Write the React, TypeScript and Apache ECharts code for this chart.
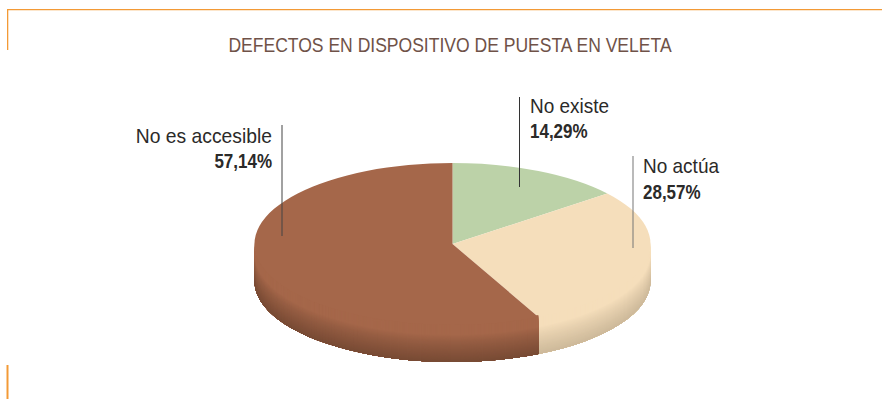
import React, { useEffect, useRef } from "react";
import * as echarts from "echarts";

const titleText = "DEFECTOS EN DISPOSITIVO DE PUESTA EN VELETA";
const categories = ["No existe", "No actúa", "No es accesible"];
const values = [14.29, 28.57, 57.14];
const valueLabels = ["14,29%", "28,57%", "57,14%"];
const topColors = ["#bcd2a8", "#f5debb", "#a5674a"];
const sideDark = ["#8f9e80", "#cdb99a", "#774a34"];

const FONT = "'Liberation Sans', sans-serif";
const CX = 452.5, CY = 244, RX = 198, RY = 81, DEPTH = 37;
const labelLayout = [
  { lineX: 519.5, y1: 97, y2: 187, textX: 530, nameY: 106, valueY: 131, nameScale: 0.95, align: "left", lineColor: "#333" },
  { lineX: 633, y1: 156, y2: 248, textX: 643, nameY: 166, valueY: 192, nameScale: 0.95, align: "left", lineColor: "#777" },
  { lineX: 282, y1: 125, y2: 236, textX: 272, nameY: 136, valueY: 161, nameScale: 0.965, align: "right", lineColor: "#444" },
];

const total = values.reduce((a, b) => a + b, 0);
const pt = (deg: number, dy = 0) => {
  const r = (deg * Math.PI) / 180;
  return [CX + RX * Math.sin(r), CY - RY * Math.cos(r) + dy];
};
const f = (n: number) => n.toFixed(2);

const mix = (a: string, b: string, t: number) => {
  const p = (s: string, i: number) => parseInt(s.substr(1 + i * 2, 2), 16);
  const c = [0, 1, 2].map((i) => Math.round(p(a, i) + (p(b, i) - p(a, i)) * t));
  return `rgb(${c[0]},${c[1]},${c[2]})`;
};

function renderSlice(params: any, api: any) {
  const i = params.dataIndex;
  const before = values.slice(0, i).reduce((a, b) => a + b, 0);
  const a0 = (before / total) * 360;
  const a1 = ((before + (api.value(0) as number)) / total) * 360;
  const children: any[] = [];

  // Rim: visible only on the front half of the ellipse (90..270 degrees).
  // Nested bands, each reaching the bottom, so that their edges cannot leave seams.
  const s0 = Math.max(a0, 90), s1 = Math.min(a1, 270);
  if (s1 > s0) {
    const large = s1 - s0 > 180 ? 1 : 0;
    const [bx1, by1] = pt(s1, DEPTH);
    const [bx0, by0] = pt(s0, DEPTH);
    for (let d = -2; d < DEPTH; d += 1) {
      const t = Math.max(d, 0) / DEPTH;
      const shade = t < 0.25 ? 0 : Math.pow((t - 0.25) / 0.75, 0.85);
      const [x0, y0] = pt(s0, d);
      const [x1, y1] = pt(s1, d);
      children.push({
        type: "path",
        shape: {
          pathData: `M${f(x0)} ${f(y0)}A${RX} ${RY} 0 ${large} 1 ${f(x1)} ${f(y1)}L${f(bx1)} ${f(by1)}A${RX} ${RY} 0 ${large} 0 ${f(bx0)} ${f(by0)}Z`,
        },
        style: { fill: mix(topColors[i], sideDark[i], shade) },
        silent: true,
      });
    }
  }

  // Top face
  const [sx, sy] = pt(a0);
  const [ex, ey] = pt(a1);
  children.push({
    type: "path",
    shape: {
      pathData: `M${CX} ${CY}L${f(sx)} ${f(sy)}A${RX} ${RY} 0 ${a1 - a0 > 180 ? 1 : 0} 1 ${f(ex)} ${f(ey)}Z`,
    },
    style: { fill: topColors[i] },
    silent: true,
  });
  return { type: "group", children };
}

function renderLabel(params: any) {
  const i = params.dataIndex;
  const l = labelLayout[i];
  return {
    type: "group",
    children: [
      {
        type: "rect",
        shape: { x: l.lineX - 0.5, y: l.y1, width: 1, height: l.y2 - l.y1 },
        style: { fill: l.lineColor },
        silent: true,
      },
      {
        type: "text",
        x: l.textX,
        y: l.nameY,
        scaleX: l.nameScale,
        style: { text: categories[i], font: `400 20px ${FONT}`, fill: "#2b2a29", align: l.align, verticalAlign: "middle" },
        silent: true,
      },
      {
        type: "text",
        x: l.textX,
        y: l.valueY,
        scaleX: 0.85,
        style: { text: valueLabels[i], font: `700 20px ${FONT}`, fill: "#2b2a29", align: l.align, verticalAlign: "middle" },
        silent: true,
      },
    ],
  };
}

export default function App() {
  const ref = useRef<HTMLDivElement>(null);
  useEffect(() => {
    document.body.style.margin = "0";
    const chart = echarts.init(ref.current!, undefined, { renderer: "svg" });
    chart.setOption({
      animation: false,
      backgroundColor: "#ffffff",
      graphic: [
        { type: "rect", shape: { x: 7, y: 9, width: 875, height: 1.3 }, style: { fill: "#f39a36" } },
        { type: "rect", shape: { x: 7, y: 9, width: 1.3, height: 41 }, style: { fill: "#f39a36" } },
        { type: "rect", shape: { x: 6.5, y: 365, width: 2, height: 34 }, style: { fill: "#f39a36" } },
        {
          type: "text",
          x: 450,
          y: 45,
          scaleX: 0.877,
          style: { text: titleText, font: `400 20px ${FONT}`, fill: "#6f5248", align: "center", verticalAlign: "middle" },
        },
      ],
      series: [
        { type: "custom", coordinateSystem: "none", data: values.map((v) => [v]), renderItem: renderSlice, silent: true, z: 1 },
        { type: "custom", coordinateSystem: "none", data: values.map((v) => [v]), renderItem: renderLabel, silent: true, z: 2 },
      ],
    });
    return () => chart.dispose();
  }, []);
  return <div ref={ref} style={{ width: 882, height: 399 }} />;
}
